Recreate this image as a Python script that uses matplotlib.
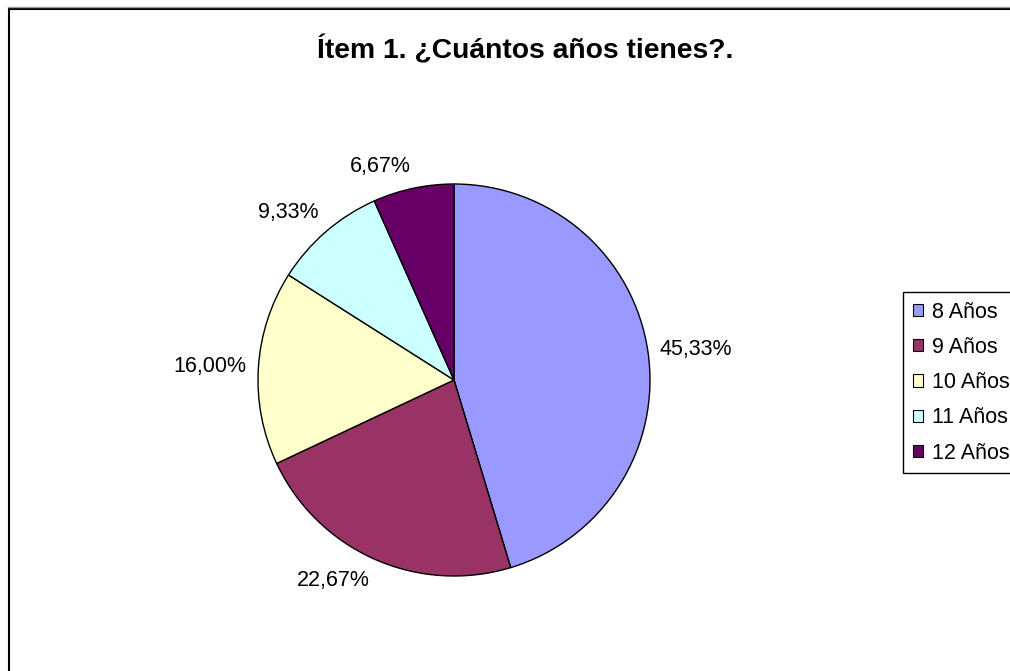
import numpy as np
import matplotlib
matplotlib.use("Agg")
import matplotlib.pyplot as plt
from matplotlib.patches import Rectangle, Patch
from matplotlib.lines import Line2D

plt.rcParams['font.family'] = ['Liberation Sans', 'DejaVu Sans']

# Survey data: age distribution of respondents (percent)
categories = ["8 Años", "9 Años", "10 Años", "11 Años", "12 Años"]
percentages = [45.33, 22.67, 16.00, 9.33, 6.67]
colors = ["#9999FF", "#993366", "#FFFFCC", "#CCFFFF", "#660066"]
title = "Ítem 1. ¿Cuántos años tienes?."

W, H = 1010, 671
fig = plt.figure(figsize=(W / 100, H / 100), dpi=100)

# Pie axes: centre at (454, 380) px, radius 196 px
cx, cy, R = 454, 380, 196
ax = fig.add_axes([(cx - R) / W, (H - cy - R) / H, 2 * R / W, 2 * R / H])
wedges, _ = ax.pie(percentages, colors=colors, startangle=90, counterclock=False,
                   radius=1.0, wedgeprops=dict(edgecolor="black", linewidth=1.0))
ax.set_xlim(-1, 1)
ax.set_ylim(-1, 1)
ax.set_aspect("equal")
ax.axis("off")

# Percentage labels outside each wedge
for w, p in zip(wedges, percentages):
    ang = np.deg2rad((w.theta1 + w.theta2) / 2)
    c, s = np.cos(ang), np.sin(ang)
    ha = "left" if c > 0.15 else ("right" if c < -0.15 else "center")
    va = "bottom" if s > 0.5 else ("top" if s < -0.5 else "center")
    ax.text(1.06 * c, 1.06 * s, f"{p:.2f}%".replace(".", ","), ha=ha, va=va,
            fontsize=15.5, color="black", clip_on=False)

fig.text(525 / W, 1 - 50 / H, title, ha="center", va="center",
         fontsize=20.3, fontweight="bold")

# Legend
handles = [Patch(facecolor=col, edgecolor="black", linewidth=0.8) for col in colors]
leg = fig.legend(handles, categories, loc="upper left",
                 bbox_to_anchor=(903 / W, 1 - 292 / H),
                 fontsize=15.5, frameon=True, fancybox=False,
                 edgecolor="black", framealpha=1, borderaxespad=0,
                 handlelength=0.5, handleheight=0.5, handletextpad=0.4,
                 labelspacing=0.66, borderpad=0.45)
leg.get_frame().set_linewidth(1.0)

# Chart area frame
fig.add_artist(Line2D([8 / W, 1.0], [1 - 7 / H, 1 - 7 / H], transform=fig.transFigure,
                      color="#999999", linewidth=1.0))
fig.add_artist(Rectangle((8.5 / W, -0.1), 1.2, (H - 9) / H + 0.1, transform=fig.transFigure,
                         fill=False, edgecolor="black", linewidth=1.5))

fig.savefig("out.png", dpi=100, facecolor="white")
